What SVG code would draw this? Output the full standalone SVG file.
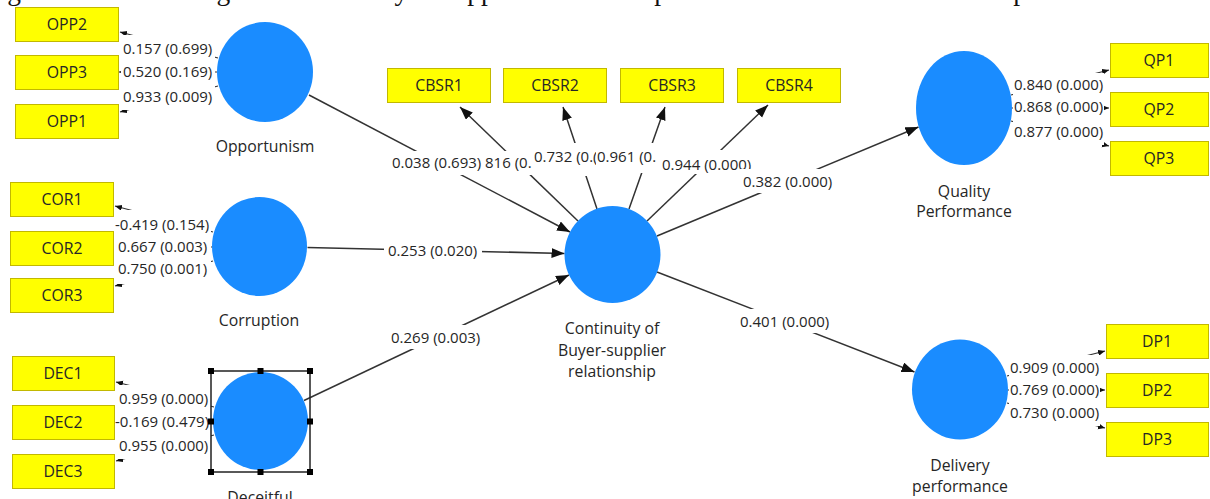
<svg xmlns="http://www.w3.org/2000/svg" width="1210" height="499" viewBox="0 0 1210 499">
<style>
.bg{fill:#ffffff}
.ind{fill:#ffff00;stroke:#c2b800;stroke-width:1}
.lv{fill:#1a8cff}
.t{font-family:"Open Sans","Liberation Sans",sans-serif;font-size:15px;fill:#262626}
.c{text-anchor:middle}
.lab{font-family:"Open Sans","Liberation Sans",sans-serif;font-size:15.8px;fill:#262626}
.ln{stroke:#333333;stroke-width:1.5;fill:none}
.sl{stroke:#333333;stroke-width:1.2;fill:none}
.h{fill:#000000}
</style>
<defs>
<marker id="big" markerUnits="userSpaceOnUse" markerWidth="14" markerHeight="12" refX="13" refY="5" orient="auto">
<path d="M0,0 L13,5 L0,10 z" fill="#111111"/>
</marker>
<marker id="sm" markerUnits="userSpaceOnUse" markerWidth="9" markerHeight="8" refX="7" refY="3" orient="auto">
<path d="M0,0 L7,3 L0,6 z" fill="#111111"/>
</marker>
</defs>
<rect x="0" y="0" width="1210" height="499" fill="#ffffff"/>
<text x="-5" y="0" font-family="'Liberation Serif',serif" font-size="27.5" fill="#111111">against the mediating variable of Buyer-Supplier relationship and outcome variables of firm performance.</text>

<g id="connectors">
<!-- structural paths -->
<line class="ln" x1="309" y1="95" x2="570" y2="232" marker-end="url(#big)"/>
<line class="ln" x1="307.5" y1="247.6" x2="564.5" y2="253.4" marker-end="url(#big)"/>
<line class="ln" x1="304" y1="400.5" x2="569" y2="275" marker-end="url(#big)"/>
<line class="ln" x1="657" y1="236" x2="918.5" y2="127" marker-end="url(#big)"/>
<line class="ln" x1="657" y1="272" x2="914.5" y2="372" marker-end="url(#big)"/>
<line class="ln" x1="578" y1="221" x2="460" y2="107" marker-end="url(#big)"/>
<line class="ln" x1="597" y1="209" x2="563" y2="107" marker-end="url(#big)"/>
<line class="ln" x1="629" y1="209" x2="665" y2="107" marker-end="url(#big)"/>
<line class="ln" x1="647" y1="221" x2="768" y2="105" marker-end="url(#big)"/>
<!-- outer loadings -->
<line class="sl" x1="218" y1="58" x2="120" y2="32" marker-end="url(#sm)"/>
<line class="sl" x1="217" y1="72" x2="119" y2="72" marker-end="url(#sm)"/>
<line class="sl" x1="218" y1="86" x2="120" y2="112" marker-end="url(#sm)"/>
<line class="sl" x1="213" y1="232" x2="115" y2="206" marker-end="url(#sm)"/>
<line class="sl" x1="212" y1="247" x2="114" y2="247" marker-end="url(#sm)"/>
<line class="sl" x1="213" y1="261" x2="115" y2="286" marker-end="url(#sm)"/>
<line class="sl" x1="214" y1="407" x2="116" y2="382" marker-end="url(#sm)"/>
<line class="sl" x1="213" y1="421" x2="115" y2="422" marker-end="url(#sm)"/>
<line class="sl" x1="214" y1="435" x2="116" y2="461" marker-end="url(#sm)"/>
<line class="sl" x1="1011" y1="95" x2="1109" y2="70" marker-end="url(#sm)"/>
<line class="sl" x1="1012" y1="108" x2="1109" y2="108" marker-end="url(#sm)"/>
<line class="sl" x1="1011" y1="121" x2="1109" y2="146" marker-end="url(#sm)"/>
<line class="sl" x1="1007" y1="376" x2="1105" y2="351" marker-end="url(#sm)"/>
<line class="sl" x1="1008" y1="390" x2="1105" y2="390" marker-end="url(#sm)"/>
<line class="sl" x1="1007" y1="403" x2="1105" y2="428" marker-end="url(#sm)"/>

<!-- path labels -->
<rect class="bg" x="389" y="151" width="96" height="24"/>
<text class="t" x="392" y="168">0.038 (0.693)</text>
<rect class="bg" x="484" y="151" width="50" height="24"/>
<text class="t" x="485" y="168">816 (0.</text>
<rect class="bg" x="533" y="143" width="64" height="33"/>
<text class="t" x="534" y="162">0.732 (0.(</text>
<rect class="bg" x="596" y="143" width="66" height="30"/>
<text class="t" x="597" y="162">0.961 (0.</text>
<rect class="bg" x="660" y="150" width="92" height="24"/>
<text class="t" x="662" y="170">0.944 (0.000)</text>
<rect class="bg" x="740" y="169" width="95" height="24"/>
<text class="t" x="743" y="187">0.382 (0.000)</text>
<rect class="bg" x="384" y="238" width="98" height="24"/>
<text class="t" x="388" y="256">0.253 (0.020)</text>
<rect class="bg" x="388" y="325" width="94" height="24"/>
<text class="t" x="391" y="343">0.269 (0.003)</text>
<rect class="bg" x="737" y="309" width="95" height="24"/>
<text class="t" x="740" y="327">0.401 (0.000)</text>

<!-- loading labels -->
<rect class="bg" x="121" y="35" width="94" height="75"/>
<text class="t" x="123" y="54">0.157 (0.699)</text>
<text class="t" x="123" y="77">0.520 (0.169)</text>
<text class="t" x="123" y="102">0.933 (0.009)</text>
<rect class="bg" x="114" y="210" width="97" height="74"/>
<text class="t" x="115" y="230">-0.419 (0.154)</text>
<text class="t" x="118" y="252">0.667 (0.003)</text>
<text class="t" x="118" y="274">0.750 (0.001)</text>
<rect class="bg" x="114" y="385" width="97" height="74"/>
<text class="t" x="119" y="404">0.959 (0.000)</text>
<text class="t" x="115" y="427">-0.169 (0.479)</text>
<text class="t" x="119" y="451">0.955 (0.000)</text>
<rect class="bg" x="1013" y="73" width="91" height="72"/>
<text class="t" x="1014" y="90">0.840 (0.000)</text>
<text class="t" x="1014" y="112">0.868 (0.000)</text>
<text class="t" x="1014" y="137">0.877 (0.000)</text>
<rect class="bg" x="1009" y="355" width="91" height="71"/>
<text class="t" x="1010" y="373">0.909 (0.000)</text>
<text class="t" x="1010" y="395">0.769 (0.000)</text>
<text class="t" x="1010" y="418">0.730 (0.000)</text>
</g>

<g id="Opportunism">
<ellipse class="lv" cx="265" cy="72" rx="48" ry="50"/>
<text class="lab c" x="265" y="152">Opportunism</text>
</g>
<g id="Corruption">
<ellipse class="lv" cx="259.5" cy="246.5" rx="47.5" ry="49.5"/>
<text class="lab c" x="259" y="326">Corruption</text>
</g>
<g id="Deceitful">
<ellipse class="lv" cx="260.5" cy="421" rx="47.5" ry="49"/>
<rect x="211" y="371" width="99" height="101" fill="none" stroke="#222222" stroke-width="1.5"/>
<rect class="h" x="208" y="368" width="6" height="6"/>
<rect class="h" x="257.5" y="368" width="6" height="6"/>
<rect class="h" x="307" y="368" width="6" height="6"/>
<rect class="h" x="208" y="418.5" width="6" height="6"/>
<rect class="h" x="307" y="418.5" width="6" height="6"/>
<rect class="h" x="208" y="469" width="6" height="6"/>
<rect class="h" x="257.5" y="469" width="6" height="6"/>
<rect class="h" x="307" y="469" width="6" height="6"/>
<text class="lab c" x="260" y="503">Deceitful</text>
</g>
<g id="Continuity">
<ellipse class="lv" cx="612.5" cy="254.5" rx="48" ry="48.5"/>
<text class="lab c" x="612" y="334">Continuity of</text>
<text class="lab c" x="612" y="356">Buyer-supplier</text>
<text class="lab c" x="612" y="377">relationship</text>
</g>
<g id="Quality">
<ellipse class="lv" cx="964" cy="108" rx="48" ry="57"/>
<text class="lab c" x="964" y="197">Quality</text>
<text class="lab c" x="964" y="217">Performance</text>
</g>
<g id="Delivery">
<ellipse class="lv" cx="960" cy="389.5" rx="48" ry="50"/>
<text class="lab c" x="960" y="471">Delivery</text>
<text class="lab c" x="960" y="492">performance</text>
</g>

<g id="OPP2"><rect class="ind" x="15.5" y="7.5" width="103" height="34"/><text class="lab c" x="67" y="30">OPP2</text></g>
<g id="OPP3"><rect class="ind" x="15.5" y="55.5" width="103" height="34"/><text class="lab c" x="67" y="78">OPP3</text></g>
<g id="OPP1"><rect class="ind" x="15.5" y="104.5" width="103" height="34"/><text class="lab c" x="67" y="127">OPP1</text></g>
<g id="COR1"><rect class="ind" x="10.5" y="182.5" width="103" height="34"/><text class="lab c" x="62" y="205">COR1</text></g>
<g id="COR2"><rect class="ind" x="10.5" y="231.5" width="103" height="34"/><text class="lab c" x="62" y="254">COR2</text></g>
<g id="COR3"><rect class="ind" x="10.5" y="278.5" width="103" height="34"/><text class="lab c" x="62" y="301">COR3</text></g>
<g id="DEC1"><rect class="ind" x="12.5" y="356.5" width="102" height="34"/><text class="lab c" x="63" y="379">DEC1</text></g>
<g id="DEC2"><rect class="ind" x="12.5" y="405.5" width="102" height="34"/><text class="lab c" x="63" y="428">DEC2</text></g>
<g id="DEC3"><rect class="ind" x="12.5" y="454.5" width="102" height="34"/><text class="lab c" x="63" y="477">DEC3</text></g>
<g id="CBSR1"><rect class="ind" x="387.5" y="68.5" width="103" height="34"/><text class="lab c" x="439" y="91">CBSR1</text></g>
<g id="CBSR2"><rect class="ind" x="503.5" y="68.5" width="103" height="34"/><text class="lab c" x="555" y="91">CBSR2</text></g>
<g id="CBSR3"><rect class="ind" x="620.5" y="68.5" width="103" height="34"/><text class="lab c" x="672" y="91">CBSR3</text></g>
<g id="CBSR4"><rect class="ind" x="737.5" y="68.5" width="103" height="34"/><text class="lab c" x="789" y="91">CBSR4</text></g>
<g id="QP1"><rect class="ind" x="1110.5" y="43.5" width="98" height="34"/><text class="lab c" x="1159" y="66">QP1</text></g>
<g id="QP2"><rect class="ind" x="1110.5" y="92.5" width="98" height="34"/><text class="lab c" x="1159" y="115">QP2</text></g>
<g id="QP3"><rect class="ind" x="1110.5" y="141.5" width="98" height="34"/><text class="lab c" x="1159" y="164">QP3</text></g>
<g id="DP1"><rect class="ind" x="1106.5" y="324.5" width="102" height="34"/><text class="lab c" x="1157" y="347">DP1</text></g>
<g id="DP2"><rect class="ind" x="1106.5" y="373.5" width="102" height="34"/><text class="lab c" x="1157" y="396">DP2</text></g>
<g id="DP3"><rect class="ind" x="1106.5" y="422.5" width="102" height="34"/><text class="lab c" x="1157" y="445">DP3</text></g>
</svg>
